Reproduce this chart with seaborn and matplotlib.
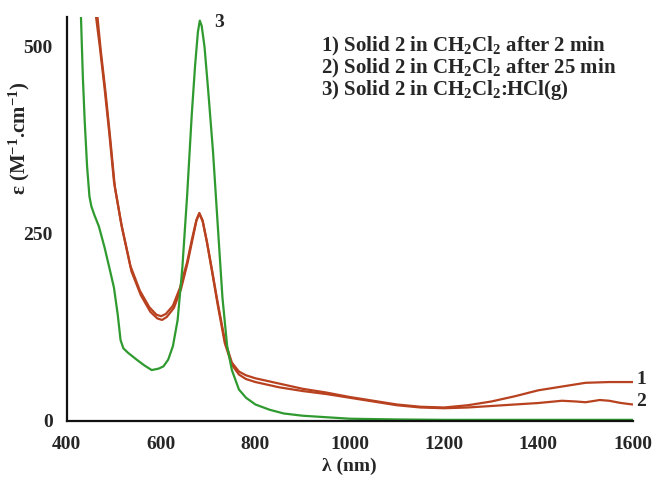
import numpy as np
import pandas as pd
import matplotlib
matplotlib.use("Agg")
import matplotlib.pyplot as plt
import seaborn as sns

# ---- data ----
wl_1 = [455, 462, 470, 480, 490, 500, 515, 535, 555, 575, 590, 600, 610, 625, 640, 655,
        665, 675, 681, 688, 697, 707, 720, 735, 750, 765, 780, 800, 850, 900, 950, 1000,
        1050, 1100, 1150, 1200, 1250, 1300, 1350, 1400, 1450, 1500, 1550, 1600]
eps_1 = [600, 540, 500, 445, 385, 320, 265, 207, 174, 152, 142, 140, 143, 154, 178, 212,
         242, 269, 278, 268, 240, 205, 158, 108, 78, 66, 61, 57, 50, 43, 38, 32,
         27, 22, 19, 18, 21, 26, 33, 41, 46, 51, 52, 52]

wl_2 = [458, 465, 472, 482, 492, 502, 517, 537, 557, 577, 592, 602, 612, 627, 642, 656,
        666, 675, 681, 688, 697, 707, 720, 735, 750, 765, 780, 800, 850, 900, 950, 1000,
        1050, 1100, 1150, 1200, 1250, 1300, 1350, 1400, 1450, 1480, 1500, 1530, 1550,
        1575, 1600]
eps_2 = [600, 540, 495, 440, 378, 312, 258, 200, 168, 146, 137, 135, 139, 151, 176, 211,
         241, 268, 277, 267, 239, 203, 155, 104, 75, 62, 56, 52, 45, 40, 36, 31,
         26, 21, 18, 17, 18, 20, 22, 24, 27, 26, 25, 28, 27, 24, 22]

wl_3 = [425, 430, 434, 438, 443, 448, 452, 458, 468, 480, 492, 500, 508, 514, 520, 530,
        540, 550, 565, 580, 595, 605, 615, 625, 635, 645, 655, 665, 672, 678, 682, 686,
        692, 700, 710, 720, 730, 740, 750, 765, 780, 800, 830, 860, 900, 950, 1000,
        1100, 1200, 1300, 1400, 1500, 1600]
eps_3 = [620, 540, 460, 400, 340, 300, 287, 276, 260, 232, 200, 178, 142, 108, 97, 91,
         86, 81, 74, 68, 70, 73, 82, 100, 135, 205, 300, 410, 475, 520, 535, 528,
         500, 440, 360, 262, 165, 100, 68, 42, 31, 22, 15, 10, 7, 5, 3,
         2, 1.5, 1.5, 1.5, 1.5, 1.5]

series_names = ["1", "2", "3"]
legend_lines = [
    r"1) Solid 2 in CH$_\mathbf{2}$Cl$_\mathbf{2}$ after 2 min",
    r"2) Solid 2 in CH$_\mathbf{2}$Cl$_\mathbf{2}$ after 25 min",
    r"3) Solid 2 in CH$_\mathbf{2}$Cl$_\mathbf{2}$:HCl(g)",
]
x_ticks = [400, 600, 800, 1000, 1200, 1400, 1600]
y_ticks = [0, 250, 500]

df = pd.concat([
    pd.DataFrame({"wl": wl_1, "eps": eps_1, "s": series_names[0]}),
    pd.DataFrame({"wl": wl_2, "eps": eps_2, "s": series_names[1]}),
    pd.DataFrame({"wl": wl_3, "eps": eps_3, "s": series_names[2]}),
], ignore_index=True)

sns.set_style("white")
plt.rcParams["font.family"] = ["Liberation Serif", "DejaVu Serif"]
plt.rcParams["font.weight"] = "bold"
plt.rcParams["mathtext.fontset"] = "custom"
plt.rcParams["mathtext.rm"] = "Liberation Serif:bold"
plt.rcParams["mathtext.bf"] = "Liberation Serif:bold"
plt.rcParams["mathtext.it"] = "Liberation Serif:bold"

fig = plt.figure(figsize=(6.55, 4.97), dpi=100)
ax = fig.add_axes([0.102, 0.153, 0.864, 0.813])

red = "#b8411f"
green = "#2f9a2f"
palette = {"1": red, "2": red, "3": green}
sns.lineplot(data=df, x="wl", y="eps", hue="s", palette=palette, sort=False,
             estimator=None, linewidth=1.6, legend=False, ax=ax)

ax.set_xlim(400, 1600)
ax.set_ylim(0, 540)
ax.set_xticks(x_ticks)
ax.set_yticks(y_ticks)
ax.set_xticklabels([str(t) for t in x_ticks], fontsize=14, fontweight="bold")
ax.set_yticklabels([str(t) for t in y_ticks], fontsize=14, fontweight="bold")
ax.tick_params(axis="x", direction="in", length=6, width=1.5, pad=11)
ax.tick_params(axis="y", direction="out", length=6, width=1.5, pad=4)
for side in ["top", "right"]:
    ax.spines[side].set_visible(False)
for side in ["left", "bottom"]:
    ax.spines[side].set_linewidth(1.6)
    ax.spines[side].set_color("#111111")

ax.set_xlabel(r"λ (nm)", fontsize=14, fontweight="bold", labelpad=3)
ax.set_ylabel(r"ε (M$^{\mathbf{-1}}$.cm$^{\mathbf{-1}}$)", fontsize=15,
              fontweight="bold")
ax.yaxis.set_label_coords(-0.062, 0.70)

# curve labels
ax.text(1607, 55, "1", fontsize=14, fontweight="bold", va="center", ha="left", clip_on=False)
ax.text(1607, 26, "2", fontsize=14, fontweight="bold", va="center", ha="left", clip_on=False)
ax.text(712, 533, "3", fontsize=14, fontweight="bold", va="center", ha="left", clip_on=False)

# legend text block
for i, line in enumerate(legend_lines):
    ax.text(0.450, 0.928 - i * 0.055, line, transform=ax.transAxes, fontsize=15,
            fontweight="bold", va="center", ha="left")

fig.savefig("out.png", dpi=100)
